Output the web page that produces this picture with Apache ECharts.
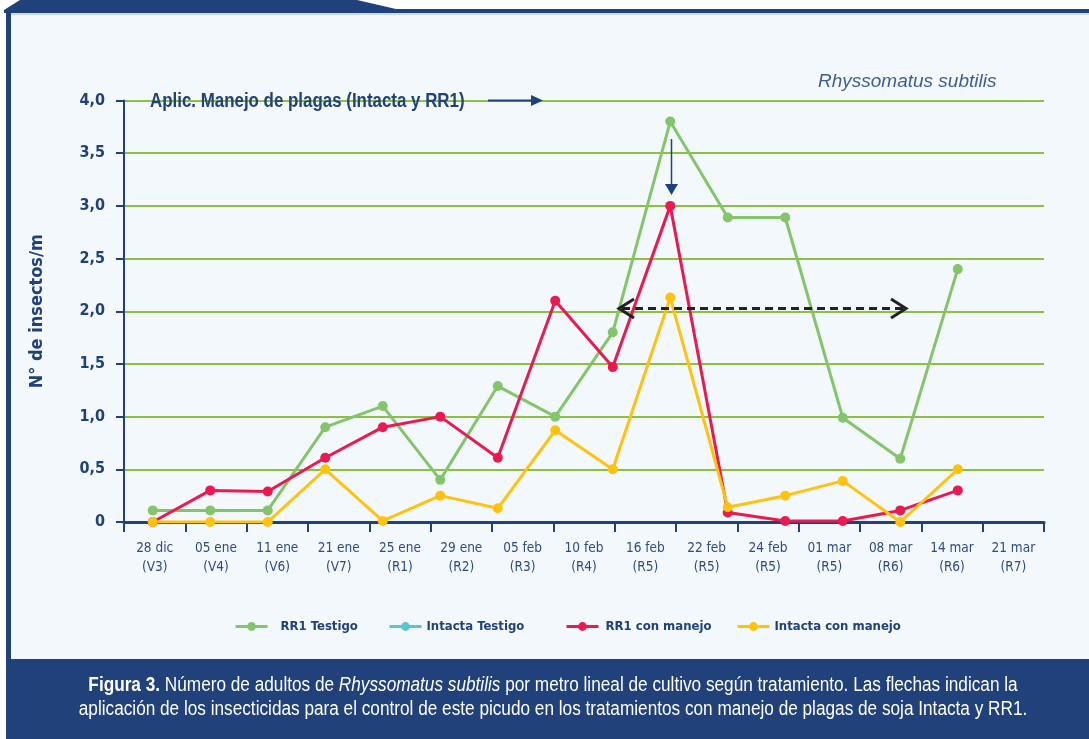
<!DOCTYPE html>
<html>
<head>
<meta charset="utf-8">
<script src="https://cdn.jsdelivr.net/npm/echarts@6/dist/echarts.min.js"></script>
<style>
  html, body { margin: 0; padding: 0; background: #ffffff; }
  #chart { width: 1089px; height: 739px; }
</style>
</head>
<body>
<div id="chart"></div>
<script>
// Sampling dates and crop stages shown under the horizontal axis
const dates  = ['28 dic', '05 ene', '11 ene', '21 ene', '25 ene', '29 ene', '05 feb', '10 feb',
                '16 feb', '22 feb', '24 feb', '01 mar', '08 mar', '14 mar', '21 mar'];
const stages = ['V3', 'V4', 'V6', 'V7', 'R1', 'R2', 'R3', 'R4',
                'R5', 'R5', 'R5', 'R5', 'R6', 'R6', 'R7'];

// Plotting slots for the counts (evenly spaced across the axis)
const slots = ['1', '2', '3', '4', '5', '6', '7', '8', '9', '10', '11', '12', '13', '14', '15', '16'];

// Adults per linear metre, one value per sampling
const rr1Testigo      = [0.11, 0.11, 0.11, 0.90, 1.10, 0.40, 1.29, 1.00, 1.80, 3.80, 2.89, 2.89, 0.99, 0.60, 2.40];
const intactaTestigo  = [];
const rr1Manejo       = [0.00, 0.30, 0.29, 0.61, 0.90, 1.00, 0.61, 2.10, 1.47, 3.00, 0.09, 0.01, 0.01, 0.11, 0.30];
const intactaManejo   = [0.00, 0.00, 0.00, 0.50, 0.01, 0.25, 0.13, 0.87, 0.50, 2.13, 0.14, 0.25, 0.39, 0.00, 0.50];

const seriesNames  = ['RR1 Testigo', 'Intacta Testigo', 'RR1 con manejo', 'Intacta con manejo'];
const seriesColors = ['#84c46b', '#5cc3cf', '#ea1a50', '#ffc20f'];

const NAVY = '#21417a';
const COND = "'DejaVu Sans Condensed', 'Liberation Sans', sans-serif";
const SANS = "'Liberation Sans', Arial, sans-serif";

const chart = echarts.init(document.getElementById('chart'), null, { renderer: 'canvas' });

function lineSeries(name, values, color) {
  return {
    name: name,
    type: 'line',
    xAxisIndex: 1,
    yAxisIndex: 0,
    data: values,
    symbol: 'circle',
    symbolSize: 10,
    showSymbol: true,
    showAllSymbol: true,
    lineStyle: { width: 3, color: color },
    itemStyle: { color: color },
    emphasis: { disabled: true }
  };
}

function legendItem(name, left, gapPad) {
  return {
    show: true,
    data: [name],
    left: left,
    top: 620,
    padding: 0,
    itemWidth: 32,
    itemHeight: 11,
    selectedMode: false,
    lineStyle: { width: 3 },
    textStyle: {
      fontFamily: COND, fontWeight: 'bold', fontSize: 13, color: NAVY,
      padding: [0, 0, 0, gapPad]
    }
  };
}

// free text squeezed horizontally to a condensed look
function narrowText(x, y, text, font, fill, align, scaleX, rich) {
  return {
    type: 'text', z: 50, silent: true, x: x, y: y, scaleX: scaleX,
    style: { text: text, align: align, verticalAlign: 'middle', fill: fill, font: font, rich: rich }
  };
}

const captionRich = {
  b: { fontFamily: SANS, fontWeight: 'bold', fontSize: 20, fill: '#ffffff' },
  i: { fontFamily: SANS, fontStyle: 'italic', fontSize: 20, fill: '#ffffff' }
};

const option = {
  animation: false,
  backgroundColor: '#ffffff',
  grid: { left: 124, top: 100.5, width: 920, height: 421.5, containLabel: false },
  xAxis: [
    {
      type: 'category',
      data: dates,
      boundaryGap: true,
      axisLine: { show: true, lineStyle: { color: NAVY, width: 3 } },
      axisTick: { show: true, interval: 0, length: 10, lineStyle: { color: NAVY, width: 2 } },
      axisLabel: {
        interval: 0,
        margin: 17,
        fontFamily: COND,
        fontSize: 13.5,
        lineHeight: 19,
        color: '#2e4b82',
        formatter: function (value, idx) { return value + '\n(' + stages[idx] + ')'; }
      },
      splitLine: { show: false }
    },
    {
      type: 'category',
      data: slots,
      boundaryGap: true,
      show: false
    }
  ],
  yAxis: [{
    type: 'value',
    min: 0, max: 4, interval: 0.5,
    name: 'N° de insectos/m',
    nameLocation: 'middle',
    nameGap: 78,
    nameTextStyle: { fontFamily: COND, fontWeight: 'bold', fontSize: 18, color: NAVY },
    axisLine: { show: true, lineStyle: { color: NAVY, width: 2 } },
    axisTick: { show: true, length: 8, lineStyle: { color: NAVY, width: 2 } },
    axisLabel: {
      margin: 19,
      fontFamily: COND, fontWeight: 'bold', fontSize: 16, color: NAVY,
      formatter: function (v) { return v === 0 ? '0' : v.toFixed(1).replace('.', ','); }
    },
    splitLine: { show: true, lineStyle: { color: '#8dc03f', width: 2 } }
  }],
  legend: [
    legendItem(seriesNames[0], 234, 8),
    legendItem(seriesNames[1], 388, 0),
    legendItem(seriesNames[2], 565, 2),
    legendItem(seriesNames[3], 736, 0)
  ],
  series: [
    lineSeries(seriesNames[0], rr1Testigo, seriesColors[0]),
    lineSeries(seriesNames[1], intactaTestigo, seriesColors[1]),
    lineSeries(seriesNames[2], rr1Manejo, seriesColors[2]),
    lineSeries(seriesNames[3], intactaManejo, seriesColors[3])
  ],
  graphic: [
    // panel background and frame
    { type: 'rect', z: -20, silent: true, shape: { x: 6, y: 9, width: 1083, height: 650 }, style: { fill: '#f3f8fc' } },
    { type: 'rect', z: -19, silent: true, shape: { x: 6, y: 9, width: 5, height: 650 }, style: { fill: NAVY } },
    { type: 'polygon', z: -19, silent: true,
      shape: { points: [[4, 10], [20, 0], [357, 0], [396, 9], [1089, 9], [1089, 13], [4, 13]] },
      style: { fill: NAVY } },
    { type: 'rect', z: -19, silent: true, shape: { x: 11, y: 13, width: 1078, height: 2 }, style: { fill: '#c9daee' } },
    // caption band
    { type: 'rect', z: -19, silent: true, shape: { x: 6, y: 659, width: 1083, height: 80 }, style: { fill: NAVY } },
    narrowText(553, 685,
      '{b|Figura 3.} Número de adultos de {i|Rhyssomatus subtilis} por metro lineal de cultivo según tratamiento. Las flechas indican la',
      '20px ' + SANS, '#ffffff', 'center', 0.86, captionRich),
    narrowText(553, 709,
      'aplicación de los insecticidas para el control de este picudo en los tratamientos con manejo de plagas de soja Intacta y RR1.',
      '20px ' + SANS, '#ffffff', 'center', 0.86),
    // species label
    narrowText(818, 82, 'Rhyssomatus subtilis', 'italic 19px ' + SANS, '#3f5d8f', 'left', 1),
    // application note with arrow
    narrowText(150, 101, 'Aplic. Manejo de plagas (Intacta y RR1)', 'bold 20px ' + SANS, NAVY, 'left', 0.845),
    { type: 'line', z: 50, silent: true, shape: { x1: 488, y1: 100.5, x2: 533, y2: 100.5 },
      style: { stroke: NAVY, lineWidth: 2 } },
    { type: 'polygon', z: 50, silent: true, shape: { points: [[531, 95], [543, 100.5], [531, 106]] },
      style: { fill: NAVY } },
    // application marker over the peak
    { type: 'line', z: 50, silent: true, shape: { x1: 671.5, y1: 139, x2: 671.5, y2: 186 },
      style: { stroke: NAVY, lineWidth: 1.5 } },
    { type: 'polygon', z: 50, silent: true, shape: { points: [[665, 184], [678, 184], [671.5, 195]] },
      style: { fill: NAVY } },
    // residual period double arrow
    { type: 'line', z: 50, silent: true, shape: { x1: 622, y1: 308.5, x2: 904, y2: 308.5 },
      style: { stroke: '#222222', lineWidth: 3, lineDash: [8, 5] } },
    { type: 'polyline', z: 50, silent: true, shape: { points: [[634, 299], [619, 308.5], [634, 318]] },
      style: { stroke: '#222222', lineWidth: 3, fill: null } },
    { type: 'polyline', z: 50, silent: true, shape: { points: [[891, 299], [906, 308.5], [891, 318]] },
      style: { stroke: '#222222', lineWidth: 3, fill: null } }
  ]
};

chart.setOption(option);
</script>
</body>
</html>
